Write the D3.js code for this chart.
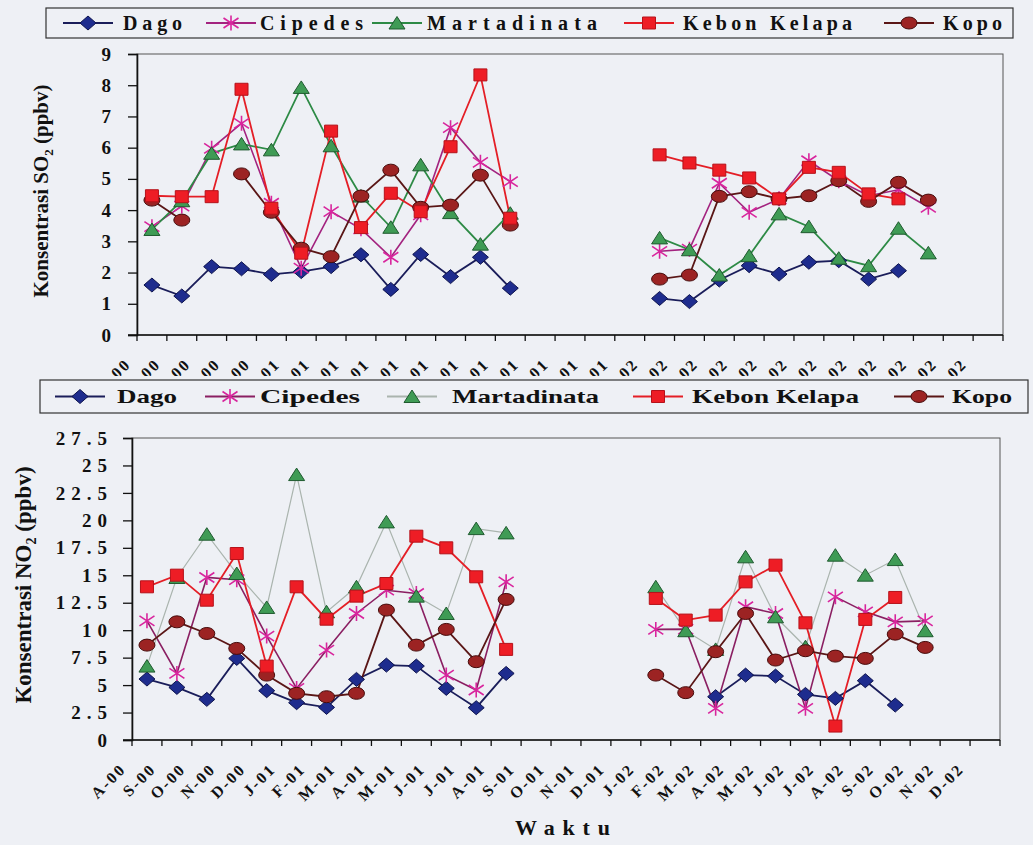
<!DOCTYPE html>
<html>
<head>
<meta charset="utf-8">
<script src="https://cdn.jsdelivr.net/npm/d3@7"></script>
<style>
	body { margin: 0; background: #eef0f5; }
	svg text { font-family: "Liberation Serif", "Times New Roman", serif; font-weight: bold; fill: #111; }
</style>
</head>
<body>
<div id="chart"></div>
<script>
// month labels (Aug 2000 .. Dec 2002)
var months = ["A-00","S-00","O-00","N-00","D-00","J-01","F-01","M-01","A-01","M-01","J-01","J-01","A-01","S-01",
	"O-01","N-01","D-01","J-02","F-02","M-02","A-02","M-02","J-02","J-02","A-02","S-02","O-02","N-02","D-02"];
var stations = ["Dago", "Cipedes", "Martadinata", "Kebon Kelapa", "Kopo"];

// SO2 (ppbv)
var so2Dago = [1.6, 1.25, 2.19, 2.12, 1.94, 2.03, 2.19, 2.57, 1.46, 2.58, 1.87, 2.49, 1.5, null, null, null, null,
	1.17, 1.07, 1.76, 2.22, 1.95, 2.33, 2.38, 1.79, 2.06, null, null, null];
var so2Cipedes = [3.47, 4.13, 5.98, 6.78, 4.22, 2.14, 3.95, 3.4, 2.49, 3.85, 6.64, 5.53, 4.91, null, null, null, null,
	2.68, 2.75, 4.86, 3.93, 4.36, 5.58, 4.94, 4.46, 4.65, 4.09, null, null];
var so2Martadinata = [3.38, 4.3, 5.82, 6.12, 5.93, 7.93, 6.06, 4.45, 3.45, 5.45, 3.92, 2.91, 3.9, null, null, null, null,
	3.11, 2.73, 1.92, 2.54, 3.88, 3.47, 2.46, 2.22, 3.42, 2.63, null, null];
var so2KebonKelapa = [4.46, 4.43, 4.43, 7.87, 4.06, 2.62, 6.53, 3.44, 4.54, 3.95, 6.03, 8.33, 3.74, null, null, null, null,
	5.77, 5.51, 5.28, 5.03, 4.36, 5.37, 5.21, 4.52, 4.36, null, null, null];
var so2Kopo = [4.32, 3.68, null, 5.16, 3.93, 2.78, 2.51, 4.45, 5.28, 4.09, 4.16, 5.12, 3.52, null, null, null, null,
	1.79, 1.92, 4.44, 4.59, 4.36, 4.46, 4.94, 4.28, 4.89, 4.32, null, null];

// NO2 (ppbv)
var no2Dago = [5.55, 4.79, 3.7, 7.43, 4.49, 3.4, 2.97, 5.52, 6.82, 6.73, 4.7, 2.94, 6.06, null, null, null, null,
	null, null, 3.94, 5.91, 5.82, 4.15, 3.79, 5.4, 3.18, null, null, null];
var no2Cipedes = [10.85, 6.06, 14.8, 14.6, 9.46, 4.7, 8.19, 11.52, 13.64, 13.34, 5.91, 4.55, 14.4, null, null, null, null,
	10.07, 10.1, 2.88, 12.13, 11.52, 2.88, 13.04, 11.67, 10.76, 10.85, null, null];
var no2Martadinata = [6.73, 14.8, 18.74, 15.16, 12.07, 24.17, 11.67, 13.95, 19.86, 13.1, 11.52, 19.25, 18.86, null, null, null, null,
	13.95, 9.95, 8.25, 16.68, 11.22, 8.49, 16.83, 15.01, 16.43, 9.95, null, null];
var no2KebonKelapa = [13.95, 15.01, 12.73, 16.98, 6.73, 13.95, 11.0, 13.1, 14.25, 18.56, 17.5, 14.86, 8.25, null, null, null, null,
	12.89, 10.92, 11.37, 14.4, 15.92, 10.67, 1.27, 10.98, 12.98, null, null, null];
var no2Kopo = [8.64, 10.76, 9.7, 8.34, 5.91, 4.25, 3.94, 4.25, 11.83, 8.64, 10.07, 7.13, 12.8, null, null, null, null,
	5.91, 4.31, 8.04, 11.52, 7.28, 8.13, 7.64, 7.43, 9.64, 8.43, null, null];

var so2Ticks = [0, 1, 2, 3, 4, 5, 6, 7, 8, 9];
var no2Ticks = [0, 2.5, 5, 7.5, 10, 12.5, 15, 17.5, 20, 22.5, 25, 27.5];

// marker look per station
var markerTypes = ["diamond", "star", "triangle", "square", "circle"],
	markerFills = ["#1e2c8e", "none", "#3f9b55", "#ee1d25", "#9c2323"],
	markerStrokes = ["#0d134d", "#d8259d", "#1f5a2f", "#b5121a", "#460b0b"],
	drawOrder = [0, 1, 2, 4, 3];

var svg = d3.select("#chart").append("svg")
	.attr("width", 1033)
	.attr("height", 845);

svg.append("rect")
	.attr("width", 1033).attr("height", 845)
	.attr("fill", "#eef0f5");

function markerPath(type) {
	if(type == "diamond") return "M0,-7L8,0L0,7L-8,0Z";
	if(type == "square") return "M-6.5,-6H6.5V6H-6.5Z";
	if(type == "triangle") return "M0,-6.5L8,6H-8Z";
	if(type == "circle") return "M-8,0A8,6 0 1,0 8,0A8,6 0 1,0 -8,0Z";
	return "M0,-7.5V7.5M-7.5,-5L7.5,5M-7.5,5L7.5,-5";
}

function drawMarker(g, k, x, y) {
	g.append("path")
		.attr("d", markerPath(markerTypes[k]))
		.attr("transform", "translate(" + x + "," + y + ")")
		.attr("fill", markerFills[k])
		.attr("stroke", markerStrokes[k])
		.attr("stroke-width", markerTypes[k] == "star" ? 1.6 : 1);
}

function drawLegend(config) {
	var b = config.box;
	var legend = svg.append("g").attr("class", "legend");
	legend.append("rect")
		.attr("x", b.x).attr("y", b.y)
		.attr("width", b.w).attr("height", b.h)
		.attr("fill", "#eef0f5")
		.attr("stroke", "#333")
		.attr("stroke-width", 1.2);
	var cy = b.y + b.h / 2;
	stations.forEach(function(name, k) {
		var sx = config.symbolX[k];
		legend.append("line")
			.attr("x1", sx - 25).attr("x2", sx + 25)
			.attr("y1", cy).attr("y2", cy)
			.attr("stroke", config.lineColors[k])
			.attr("stroke-width", 2);
		drawMarker(legend, k, sx, cy);
		legend.append("text")
			.attr("x", config.textX[k])
			.attr("y", cy + config.fontSize * 0.33)
			.attr("font-size", config.fontSize)
			.attr("textLength", config.textW[k])
			.attr("lengthAdjust", config.adjust)
			.text(name);
	});
}

function drawChart(config) {
	var area = config.area;
	var series = config.series;

	var xScale = d3.scaleBand().domain(d3.range(months.length)).range([area.left, area.right]),
		yScale = d3.scaleLinear().domain([0, config.yMax]).range([area.bottom, area.top]),
		bw = xScale.bandwidth(),
		cx = function(i) { return xScale(i) + bw / 2; };

	var chart = svg.append("g").attr("class", "chart");

	// plot frame
	chart.append("rect")
		.attr("x", area.left).attr("y", area.top)
		.attr("width", area.right - area.left)
		.attr("height", area.bottom - area.top)
		.attr("fill", "none")
		.attr("stroke", "#555")
		.attr("stroke-width", 1);

	// y axis
	var yAxis = d3.axisLeft(yScale)
		.tickValues(config.yTicks)
		.tickSize(9)
		.tickPadding(config.yPad)
		.tickFormat(function(d) { return d; });
	var yg = chart.append("g")
		.attr("transform", "translate(" + area.left + ",0)")
		.call(yAxis);
	yg.select(".domain").attr("stroke", "#111").attr("stroke-width", 1.6);
	yg.selectAll(".tick line").attr("stroke", "#111").attr("stroke-width", 1.3);
	yg.selectAll(".tick text")
		.attr("font-family", null)
		.attr("font-size", 19)
		.attr("fill", "#111")
		.attr("letter-spacing", config.ySpacing)
		.attr("dx", config.ySpacing);

	// x axis: ticks between categories
	var xg = chart.append("g");
	xg.append("line")
		.attr("x1", area.left - 9).attr("x2", area.right)
		.attr("y1", area.bottom).attr("y2", area.bottom)
		.attr("stroke", "#111").attr("stroke-width", 1.6);
	xg.selectAll("line.xtick")
		.data(d3.range(months.length + 1))
		.enter().append("line")
		.attr("class", "xtick")
		.attr("x1", function(i) { return area.left + i * bw; })
		.attr("x2", function(i) { return area.left + i * bw; })
		.attr("y1", area.bottom)
		.attr("y2", area.bottom + 6)
		.attr("stroke", "#111").attr("stroke-width", 1.3);

	var labels = chart.append("g");
	if(config.labelClip) {
		svg.append("clipPath").attr("id", config.labelClip.id)
			.append("rect")
			.attr("x", 0).attr("y", 0)
			.attr("width", 1033).attr("height", config.labelClip.maxY);
		labels.attr("clip-path", "url(#" + config.labelClip.id + ")");
	}
	labels.selectAll("text")
		.data(months)
		.enter().append("text")
		.attr("text-anchor", "end")
		.attr("font-size", 16)
		.attr("letter-spacing", 2.2)
		.attr("transform", function(d, i) {
			return "translate(" + (cx(i) - 20) + "," + (area.bottom + 30) + ") rotate(-45)";
		})
		.text(function(d) { return d; });

	// lines
	var line = d3.line()
		.defined(function(d) { return d.v != null; })
		.x(function(d) { return cx(d.i); })
		.y(function(d) { return yScale(d.v); });

	var points = series.map(function(values) {
		return values.map(function(v, i) { return { v: v, i: i }; });
	});

	chart.selectAll("path.series")
		.data(points)
		.enter().append("path")
		.attr("class", "series")
		.attr("d", line)
		.attr("fill", "none")
		.attr("stroke", function(d, k) { return config.lineColors[k]; })
		.attr("stroke-width", function(d, k) { return config.lineWidths[k]; });

	// markers
	var marks = chart.append("g");
	drawOrder.forEach(function(k) {
		points[k].forEach(function(d) {
			if(d.v == null) return;
			drawMarker(marks, k, cx(d.i), yScale(d.v));
		});
	});

	// y title
	var t = chart.append("text")
		.attr("text-anchor", "middle")
		.attr("font-size", config.titleSize)
		.attr("transform", "translate(" + config.titlePos[0] + "," + config.titlePos[1] + ") rotate(-90)");
	t.append("tspan").text("Konsentrasi " + config.gas);
	t.append("tspan").attr("font-size", config.titleSize * 0.62).attr("dy", 5).text("2");
	t.append("tspan").attr("dy", -5).text(" (ppbv)");
}

drawChart({
	series: [so2Dago, so2Cipedes, so2Martadinata, so2KebonKelapa, so2Kopo],
	area: { left: 137, right: 1003, top: 54, bottom: 335 },
	yMax: 9,
	yTicks: so2Ticks,
	yPad: 17,
	ySpacing: 0,
	lineColors: ["#1a1d5a", "#a3237f", "#2d8a45", "#e41e26", "#5a1616"],
	lineWidths: [1.8, 1.6, 1.8, 1.8, 1.8],
	gas: "SO",
	titleSize: 21,
	titlePos: [48, 191],
	labelClip: { id: "clipTop", maxY: 376 }
});

drawChart({
	series: [no2Dago, no2Cipedes, no2Martadinata, no2KebonKelapa, no2Kopo],
	area: { left: 132, right: 1000, top: 438, bottom: 740 },
	yMax: 27.5,
	yTicks: no2Ticks,
	yPad: 16,
	ySpacing: 6,
	lineColors: ["#1a1d5a", "#8a1f62", "#aab4ae", "#e41e26", "#5a1616"],
	lineWidths: [1.8, 1.6, 1.2, 1.8, 1.8],
	gas: "NO",
	titleSize: 23,
	titlePos: [31, 585]
});

drawLegend({
	box: { x: 46, y: 8, w: 967, h: 30 },
	symbolX: [88, 231, 397, 649, 909],
	textX: [123, 260, 427, 683, 943],
	textW: [59, 103, 170, 169, 59],
	fontSize: 20,
	adjust: "spacing",
	lineColors: ["#1a1d5a", "#a3237f", "#2d8a45", "#e41e26", "#5a1616"]
});

drawLegend({
	box: { x: 40, y: 380, w: 988, h: 33 },
	symbolX: [80, 230, 412, 658, 919],
	textX: [117, 260, 452, 692, 952],
	textW: [60, 100, 147, 167, 60],
	fontSize: 19,
	adjust: "spacingAndGlyphs",
	lineColors: ["#1a1d5a", "#8a1f62", "#aab4ae", "#e41e26", "#5a1616"]
});

// x title
svg.append("text")
	.attr("x", 515)
	.attr("y", 835)
	.attr("font-size", 22)
	.attr("textLength", 95)
	.attr("lengthAdjust", "spacing")
	.text("Waktu");
</script>
</body>
</html>
